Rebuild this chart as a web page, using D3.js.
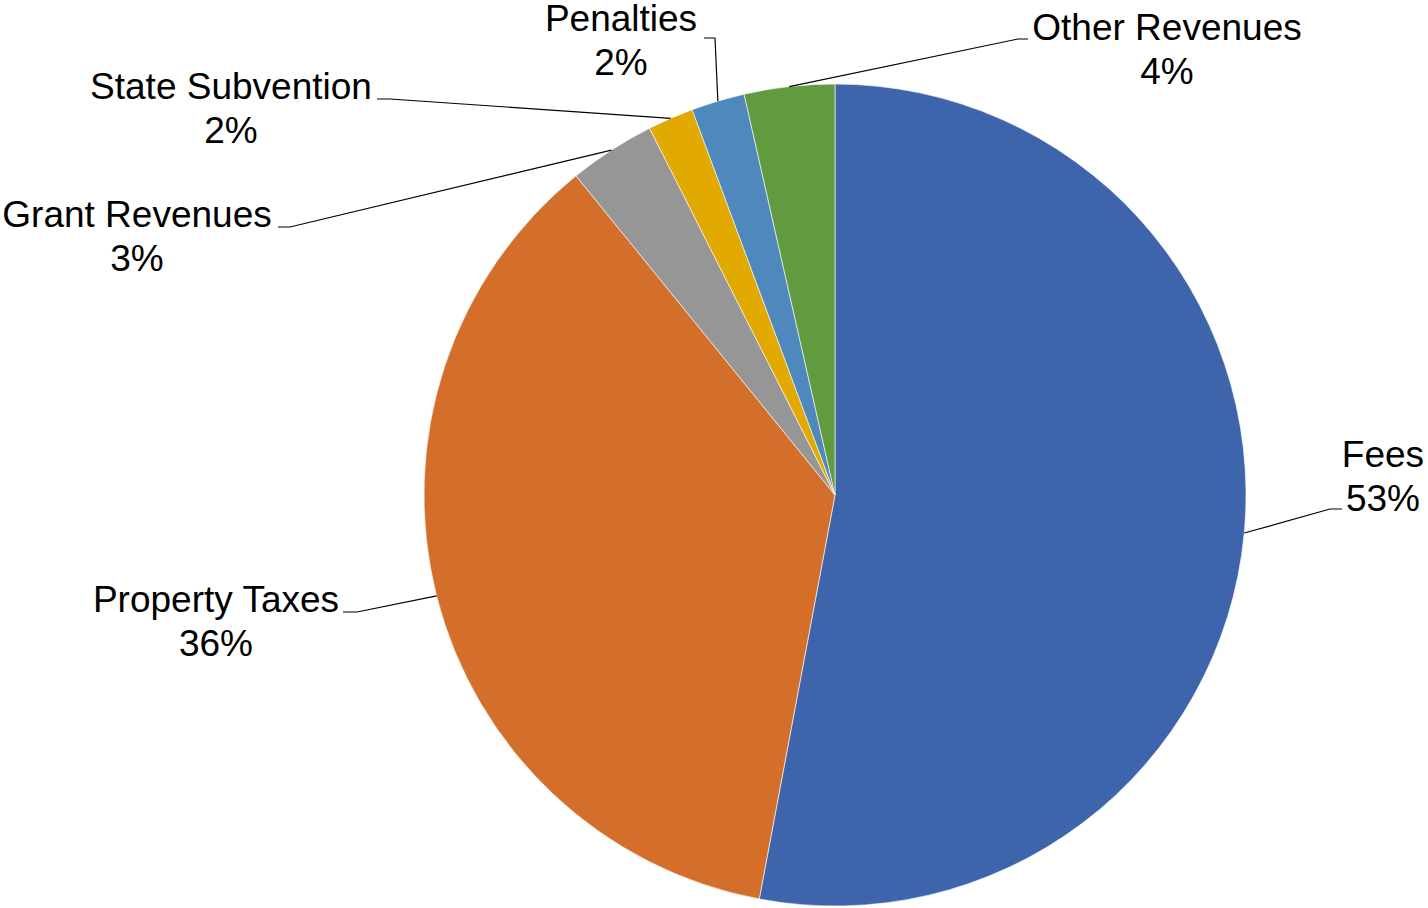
<!DOCTYPE html>
<html>
<head>
<meta charset="utf-8">
<script src="https://cdn.jsdelivr.net/npm/d3@7"></script>
<style>
  html, body { margin: 0; padding: 0; background: #ffffff; }
  svg { display: block; }
  text { font-family: "Liberation Sans", Arial, sans-serif; fill: #000; }
</style>
</head>
<body>
<svg id="chart" width="1428" height="908"></svg>
<script>
// ---- data ----
const categories = ["Fees", "Property Taxes", "Grant Revenues", "State Subvention", "Penalties", "Other Revenues"];
const values = [52.95, 36.2, 3.4, 1.8, 2.1, 3.55];
const colors = ["#3E64AB", "#D36F2B", "#969696", "#E2A900", "#4F88BD", "#629A3F"];

// ---- layout (label positions, not data) ----
const labelLayout = [
  { cx: 1383, y: 467, elbow: [1330, 509], end: [1342, 509] },
  { cx: 216,  y: 612, elbow: [357, 612],  end: [343, 612] },
  { cx: 137,  y: 227, elbow: [290, 227],  end: [278, 227] },
  { cx: 231,  y: 99,  elbow: [390, 99],   end: [377, 99] },
  { cx: 621,  y: 31,  elbow: [715, 38],   end: [704, 38] },
  { cx: 1167, y: 40,  elbow: [1018, 39],  end: [1028, 39] }
];

const cx = 835, cy = 495, R = 411;
const svg = d3.select("#chart");
const total = d3.sum(values);

const data = categories.map((c, i) => ({ name: c, value: values[i], color: colors[i], layout: labelLayout[i] }));

const pie = d3.pie().value(d => d.value).sort(null).startAngle(0).endAngle(2 * Math.PI);
const arcs = pie(data);
const arc = d3.arc().innerRadius(0).outerRadius(R);
const edgeArc = d3.arc().innerRadius(R).outerRadius(R);

const g = svg.append("g").attr("transform", `translate(${cx},${cy})`);
g.selectAll("path.slice")
  .data(arcs)
  .join("path")
  .attr("class", "slice")
  .attr("d", arc)
  .attr("fill", d => d.data.color)
  .attr("stroke", "#ffffff")
  .attr("stroke-width", 0.6);

// leader lines
svg.selectAll("polyline.leader")
  .data(arcs)
  .join("polyline")
  .attr("class", "leader")
  .attr("fill", "none")
  .attr("stroke", "#000")
  .attr("stroke-width", 1.2)
  .attr("points", d => {
    const c = edgeArc.centroid(d);
    const p0 = [cx + c[0], cy + c[1]];
    const L = d.data.layout;
    return [p0, L.elbow, L.end].map(p => p.join(",")).join(" ");
  });

// labels
const lab = svg.selectAll("text.lbl")
  .data(arcs)
  .join("text")
  .attr("class", "lbl")
  .attr("text-anchor", "middle")
  .attr("font-size", 37);
lab.append("tspan")
  .attr("x", d => d.data.layout.cx)
  .attr("y", d => d.data.layout.y)
  .text(d => d.data.name);
lab.append("tspan")
  .attr("x", d => d.data.layout.cx)
  .attr("y", d => d.data.layout.y + 44)
  .text(d => Math.round(d.data.value / total * 100) + "%");
</script>
</body>
</html>
